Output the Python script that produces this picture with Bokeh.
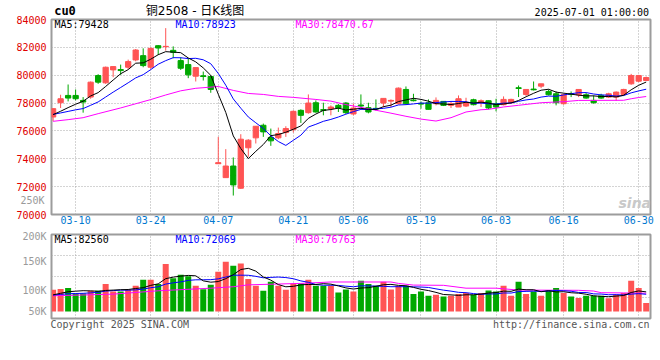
import pandas as pd
from bokeh.plotting import figure
from bokeh.models import Range1d, FixedTicker, Label, LinearAxis
from bokeh.layouts import column
from bokeh.embed import file_html
from bokeh.resources import INLINE

dates = ["03-05", "03-06", "03-07", "03-10", "03-11", "03-12", "03-13", "03-14", "03-17", "03-18",
         "03-19", "03-20", "03-21", "03-24", "03-25", "03-26", "03-27", "03-28", "03-31", "04-01",
         "04-02", "04-03", "04-07", "04-08", "04-09", "04-10", "04-11", "04-14", "04-15", "04-16",
         "04-17", "04-18", "04-21", "04-22", "04-23", "04-24", "04-25", "04-28", "04-29", "04-30",
         "05-06", "05-07", "05-08", "05-09", "05-12", "05-13", "05-14", "05-15", "05-16", "05-19",
         "05-20", "05-21", "05-22", "05-23", "05-26", "05-27", "05-28", "05-29", "05-30", "06-03",
         "06-04", "06-05", "06-06", "06-09", "06-10", "06-11", "06-12", "06-13", "06-16", "06-17",
         "06-18", "06-19", "06-20", "06-23", "06-24", "06-25", "06-26", "06-27", "06-30", "07-01"]
opens = [77000, 78025, 78549, 78549, 78192, 78430, 79977, 79453, 80382, 80405,
         80572, 81096, 81405, 80572, 82119, 82048, 81786, 81048, 80762, 79929,
         79953, 79906, 73646, 72647, 73480, 71885, 74789, 75503, 76407, 75526,
         75503, 75883, 76098, 77478, 77311, 78025, 77526, 77597, 77835, 78002,
         77216, 77859, 77669, 77621, 78002, 78144, 77954, 78977, 78216, 77978,
         78025, 77954, 78120, 77835, 77716, 77787, 78240, 78025, 78168, 77954,
         77883, 78025, 79096, 78620, 79001, 79215, 78835, 78668, 77954, 78668,
         78597, 78597, 78192, 78549, 78430, 78430, 78620, 79382, 79572, 79620]
highs = [77600, 78597, 79334, 78977, 78430, 79549, 80072, 80620, 80620, 80762,
         81119, 81881, 81929, 82000, 82167, 83380, 82071, 81286, 81167, 80548,
         80263, 79977, 75574, 74693, 74098, 75764, 75407, 76336, 76526, 76169,
         76240, 76336, 77478, 77549, 78620, 78192, 78025, 77835, 77930, 78073,
         77954, 78620, 78025, 78263, 78335, 78263, 79120, 79192, 78668, 78120,
         78263, 78406, 78120, 78120, 78549, 78382, 78311, 78263, 78192, 78311,
         78478, 78311, 79263, 78977, 79549, 79382, 78977, 78835, 78668, 78835,
         78977, 78739, 78549, 78668, 78739, 78835, 79025, 80096, 80025, 79906]
lows = [76700, 77645, 78120, 78192, 77311, 78311, 79382, 79382, 79858, 80025,
        80453, 81000, 80572, 80453, 81453, 81762, 81215, 80382, 79787, 79549,
        79620, 78739, 73646, 72647, 71361, 71837, 74146, 75098, 75574, 74931,
        75407, 75574, 75883, 76574, 77240, 77311, 77121, 77121, 77359, 77216,
        77121, 77716, 77264, 77478, 77692, 77716, 77906, 77883, 78120, 77597,
        77549, 77835, 77787, 77645, 77716, 77716, 77835, 77716, 77549, 77407,
        77835, 77954, 78430, 78501, 78906, 79073, 78549, 77835, 77883, 78430,
        78430, 78311, 77954, 78311, 78359, 78168, 78549, 79311, 79501, 79596]
closes = [77600, 78311, 78359, 78311, 78073, 79501, 79501, 80572, 80620, 80334,
          80977, 81810, 80691, 81929, 81952, 82071, 81643, 80501, 80025, 80548,
          79906, 78977, 73718, 73480, 72123, 75407, 75336, 76336, 75931, 75288,
          75812, 76169, 77407, 77121, 78002, 77359, 77478, 77716, 77645, 77311,
          77645, 77787, 77359, 77573, 78335, 78192, 79073, 77954, 78168, 77930,
          77549, 78192, 77835, 77954, 78311, 78002, 77883, 78168, 77645, 77716,
          78263, 78263, 79049, 78977, 78953, 79382, 78597, 78025, 78597, 78620,
          78977, 78359, 78025, 78359, 78668, 78787, 78977, 79977, 79977, 79834]
volumes = [91000, 95000, 99000, 76000, 76000, 87000, 87000, 116000, 84000, 84000,
           91000, 108000, 133000, 133000, 116000, 200000, 140000, 154000, 148000, 108000,
           94000, 112000, 167000, 209000, 192000, 202000, 137000, 108000, 87000, 125000,
           108000, 91000, 118000, 118000, 133000, 108000, 108000, 108000, 80000, 92000,
           84000, 129000, 116000, 108000, 125000, 92000, 108000, 108000, 74000, 84000,
           66000, 70000, 63000, 66000, 74000, 78000, 70000, 78000, 88000, 84000,
           108000, 66000, 125000, 74000, 84000, 66000, 88000, 99000, 78000, 63000,
           57000, 66000, 66000, 66000, 56000, 70000, 78000, 129000, 99000, 36000]
pre_close = [77300, 77250, 77200, 77150, 77150, 77100, 77050, 77100, 77000]
pre_volume = [68000, 69000, 67000, 68000, 68000, 63000, 66000, 64000, 66000]
ma30_idx = [0, 2, 4, 6, 9, 11, 13, 15, 17, 19, 22, 24, 26, 28, 30, 32, 35, 37, 39, 42,
            45, 47, 49, 51, 53, 55, 57, 58, 60, 62, 65, 68, 70, 76, 77, 78, 79]
ma30_val = [76690, 76810, 76950, 77240, 77650, 77950, 78250, 78580, 78880, 79060, 79190,
            78910, 78690, 78620, 78480, 78410, 78260, 78140, 77890, 77590, 77275, 77050,
            76850, 76710, 76950, 77360, 77520, 77550, 77720, 77840, 78025, 78100, 78190,
            78200, 78310, 78400, 78471]
vma30_idx = [0, 8, 14, 21, 24, 26, 33, 37, 45, 46, 48, 52, 55, 59, 62, 70, 72, 73, 76, 79]
vma30_val = [66000, 73000, 87000, 98000, 104000, 112000, 118000, 124000, 124000, 118000,
             111000, 110000, 98000, 98000, 90000, 89000, 86000, 79000, 78000, 76763]
tick_dates = ["03-10", "03-24", "04-07", "04-21", "05-06", "05-19", "06-03", "06-16", "06-30"]
price_ticks = [70000, 72000, 74000, 76000, 78000, 80000, 82000, 84000]
vol_tick_labels = ["50K", "100K", "150K", "200K"]
extra_vol_label = "250K"
title_symbol = "cu0"
title_text = "铜2508 - 日K线图"
time_text = "2025-07-01 01:00:00"
ma_names = ["MA5", "MA10", "MA30"]
price_ma_last = ["79428", "78923", "78470.67"]
vol_ma_last = ["82560", "72069", "76763"]
copyright_text = "Copyright 2025 SINA.COM"
url_text = "http://finance.sina.com.cn"

n = len(closes)
idx = list(range(n))
ma5 = pd.Series(pre_close + closes).rolling(5).mean().iloc[len(pre_close):].tolist()
ma10 = pd.Series(pre_close + closes).rolling(10).mean().iloc[len(pre_close):].tolist()
vma5 = pd.Series(pre_volume + volumes).rolling(5).mean().iloc[len(pre_volume):].tolist()
vma10 = pd.Series(pre_volume + volumes).rolling(10).mean().iloc[len(pre_volume):].tolist()

RED = "#ff5454"
GREEN = "#00a800"
colors = [RED if c >= o else GREEN for o, c in zip(opens, closes)]
tops = [max(o, c) for o, c in zip(opens, closes)]
bots = [min(o, c) for o, c in zip(opens, closes)]
mids = [(o + c) / 2 for o, c in zip(opens, closes)]
tick_idx = [dates.index(d) for d in tick_dates]

# reference-pixel -> data helpers (layout only)
X0_REF, DX = 52.6, 7.5076
def xr(px):
    return (px - X0_REF) / DX
def yp(py):
    return 84000 - (py - 19) / 195 * 14000
VOL_BASE, VOL_PX_PER_K = 311, 0.238
def yv(py):
    return (VOL_BASE - py) / VOL_PX_PER_K * 1000

MONO = "DejaVu Sans Mono"
CHW = 0.602  # DejaVu Sans Mono advance per em
GRID_C = "#a8a8a8"
BORDER_C = "#9c9c9c"
W = 658
x_range = Range1d(xr(51), xr(650))


def plain(ax, color, size="10px", font=MONO, standoff=0, style="normal"):
    ax.axis_line_color = None
    ax.major_tick_line_color = None
    ax.minor_tick_line_color = None
    ax.major_tick_out = 0
    ax.major_tick_in = 0
    ax.minor_tick_out = 0
    ax.minor_tick_in = 0
    ax.major_label_text_font = font
    ax.major_label_text_font_size = size
    ax.major_label_text_font_style = style
    ax.major_label_text_color = color
    ax.major_label_standoff = standoff


def text_axis(fig, place, pos, text, **kw):
    ax = LinearAxis(ticker=FixedTicker(ticks=[pos]), major_label_overrides={pos: text})
    plain(ax, **kw)
    fig.add_layout(ax, place)
    return ax


# ---------------- price panel ----------------
p = figure(width=W, height=230, x_range=x_range, y_range=Range1d(70000, 84000),
           output_backend="svg", toolbar_location=None,
           min_border_left=51, min_border_right=W - 650, min_border_top=19, min_border_bottom=16)
p.background_fill_color = "white"
p.border_fill_color = "white"
p.outline_line_color = BORDER_C
p.outline_line_width = 2
p.xaxis.ticker = FixedTicker(ticks=tick_idx)
p.xaxis.major_label_overrides = {i: d for i, d in zip(tick_idx, tick_dates)}
p.yaxis.ticker = FixedTicker(ticks=price_ticks)
p.yaxis.major_label_overrides = {v: str(v) for v in price_ticks}
plain(p.xaxis[0], "#0078d0", standoff=1)
plain(p.yaxis[0], "#e00000", standoff=5)
for g in (p.xgrid, p.ygrid):
    g.grid_line_color = GRID_C
    g.grid_line_dash = "1 2"
    g.grid_line_width = 1

p.segment(x0=idx, y0=lows, x1=idx, y1=highs, line_color=colors, line_width=1)
p.vbar(x=idx, width=0.7, top=tops, bottom=bots, fill_color=colors, line_color=colors, line_width=1)
p.segment(x0=[i - 0.35 for i in idx], y0=mids, x1=[i + 0.35 for i in idx], y1=mids,
          line_color=colors, line_width=1)
p.line(ma30_idx, ma30_val, line_color="#ff00ff", line_width=1)
p.line(idx, ma10, line_color="#0000ff", line_width=1)
p.line(idx, ma5, line_color="#000000", line_width=1)

ma_x = [xr(54), xr(175), xr(295)]
ma_cols = ["#000000", "#0000ff", "#ff00ff"]
for xx, nm, val, col in zip(ma_x, ma_names, price_ma_last, ma_cols):
    p.add_layout(Label(x=xx, y=yp(24), text=f"{nm}:{val}", text_color=col, text_font=MONO,
                       text_font_size="10px", text_baseline="middle", text_align="left"))
p.add_layout(Label(x=xr(618), y=yp(202), text="sina", text_color="#c9c9c9", text_font="DejaVu Sans",
                   text_font_style="bold italic", text_font_size="14px", text_baseline="middle"))

# header texts: stacked axes above the frame (outer ones pulled back with negative standoff)
text_axis(p, "above", xr(194.5), title_text, color="#000000", size="12px",
          font="DejaVu Sans, Noto Sans CJK SC", standoff=2)
text_axis(p, "above", xr(64.5), title_symbol, color="#000000", size="12px", standoff=-17,
          style="bold")
text_axis(p, "above", xr(648.5 - len(time_text) * 10 * CHW / 2), time_text, color="#000000",
          standoff=-17)
# volume-scale label spilling into the price panel (outer left axis pulled back)
text_axis(p, "left", yp(200), extra_vol_label, color="#9a9a9a", standoff=-31)

# ---------------- volume panel ----------------
vy0, vy1 = yv(318), yv(234)
v = figure(width=W, height=124, x_range=x_range, y_range=Range1d(vy0, vy1),
           output_backend="svg", toolbar_location=None,
           min_border_left=51, min_border_right=W - 650, min_border_top=4, min_border_bottom=36)
v.background_fill_color = "white"
v.border_fill_color = "white"
v.outline_line_color = BORDER_C
v.outline_line_width = 2
foot_pos = [xr(50 + len(copyright_text) * 10 * CHW / 2), xr(649 - len(url_text) * 10 * CHW / 2)]
v.xaxis.ticker = FixedTicker(ticks=foot_pos)
v.xaxis.major_label_overrides = {foot_pos[0]: copyright_text, foot_pos[1]: url_text}
plain(v.xaxis[0], "#555555", standoff=0)
v.xgrid.ticker = FixedTicker(ticks=tick_idx)
vol_tick_pos = [yv(311), yv(290), yv(261), vy1]
v.yaxis.ticker = FixedTicker(ticks=vol_tick_pos)
v.yaxis.major_label_overrides = {t: s for t, s in zip(vol_tick_pos, vol_tick_labels)}
plain(v.yaxis[0], "#9a9a9a", standoff=5)
v.ygrid.ticker = FixedTicker(ticks=[vy0 + (vy1 - vy0) * k / 4 for k in (1, 2, 3)])
for g in (v.xgrid, v.ygrid):
    g.grid_line_color = GRID_C
    g.grid_line_dash = "1 2"
    g.grid_line_width = 1

v.vbar(x=idx, width=0.8, top=volumes, bottom=0, fill_color=colors, line_color=None)
v.line(vma30_idx, vma30_val, line_color="#ff00ff", line_width=1)
v.line(idx, vma10, line_color="#0000ff", line_width=1)
v.line(idx, vma5, line_color="#000000", line_width=1)
for xx, nm, val, col in zip(ma_x, ma_names, vol_ma_last, ma_cols):
    v.add_layout(Label(x=xx, y=yv(239), text=f"{nm}:{val}", text_color=col, text_font=MONO,
                       text_font_size="10px", text_baseline="middle", text_align="left"))

layout = column(p, v, spacing=0)
open("out.html", "w").write(file_html(layout, INLINE))
